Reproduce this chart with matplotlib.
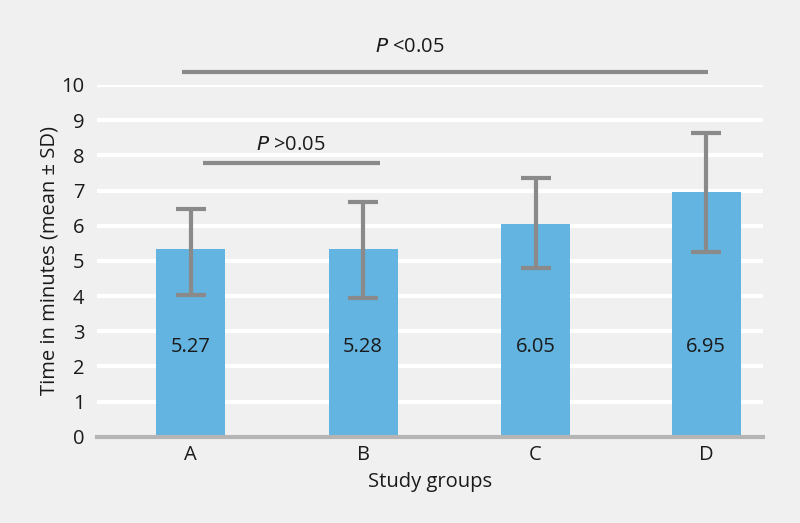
import matplotlib
matplotlib.use("Agg")
import matplotlib.pyplot as plt
import numpy as np

plt.rcParams['font.family'] = ['Open Sans', 'DejaVu Sans']

categories = ["A", "B", "C", "D"]
bar_heights = [5.33, 5.33, 6.06, 6.95]
value_labels = ["5.27", "5.28", "6.05", "6.95"]
err_upper = [6.47, 6.66, 7.36, 8.63]
err_lower = [4.04, 3.95, 4.80, 5.24]
yticks = list(range(0, 11))

bg = "#f0f0f0"
bar_color = "#63b4e0"
err_color = "#8a8a8a"
txt = "#1a1a1a"

fig = plt.figure(figsize=(8, 5.23), dpi=100, facecolor=bg)
ax = fig.add_axes([0.121, 0.165, 0.833, 0.6725])
ax.set_facecolor(bg)

x = np.array([0, 1, 2, 2.99])
heights = np.array(bar_heights)
yerr = np.array([heights - np.array(err_lower), np.array(err_upper) - heights])

ax.bar(x, heights, width=0.4, color=bar_color, zorder=2)
ax.errorbar(x, heights, yerr=yerr, fmt="none", ecolor=err_color,
            elinewidth=3, capsize=10.5, capthick=3, zorder=3)

for xi, lab in zip(x, value_labels):
    ax.text(xi, 2.55, lab, ha="center", va="center", fontsize=14.5, color=txt, zorder=4)

ax.set_xlim(-0.544, 3.32)
ax.set_ylim(0, 10)
ax.set_yticks(yticks)
ax.set_yticklabels([str(t) for t in yticks], fontsize=14.5, color=txt)
ax.set_xticks(x)
ax.set_xticklabels(categories, fontsize=14.5, color=txt)
ax.tick_params(axis="both", length=0)
ax.tick_params(axis="y", pad=9)
ax.tick_params(axis="x", pad=6)

ax.yaxis.grid(True, color="white", linewidth=3, zorder=0)
ax.set_axisbelow(True)
for s in ["top", "right", "left"]:
    ax.spines[s].set_visible(False)
ax.spines["bottom"].set_color("#b5b5b5")
ax.spines["bottom"].set_linewidth(3)
ax.spines["bottom"].set_zorder(5)

ax.set_xlabel("Study groups", fontsize=14.5, color=txt, labelpad=5)
ax.set_ylabel("Time in minutes (mean \u00b1 SD)", fontsize=14.5, color=txt, labelpad=1)

# significance annotations
ax.plot([-0.05, 3.0], [10.37, 10.37], color=err_color, linewidth=3, clip_on=False, solid_capstyle="butt")
ax.text(1.27, 10.8, "$\\mathit{P}$ <0.05", ha="center", va="bottom", fontsize=14.5, color=txt)
ax.plot([0.07, 1.1], [7.78, 7.78], color=err_color, linewidth=3, clip_on=False, solid_capstyle="butt")
ax.text(0.58, 8.0, "$\\mathit{P}$ >0.05", ha="center", va="bottom", fontsize=14.5, color=txt)

fig.savefig("out.png", dpi=100, facecolor=bg)
